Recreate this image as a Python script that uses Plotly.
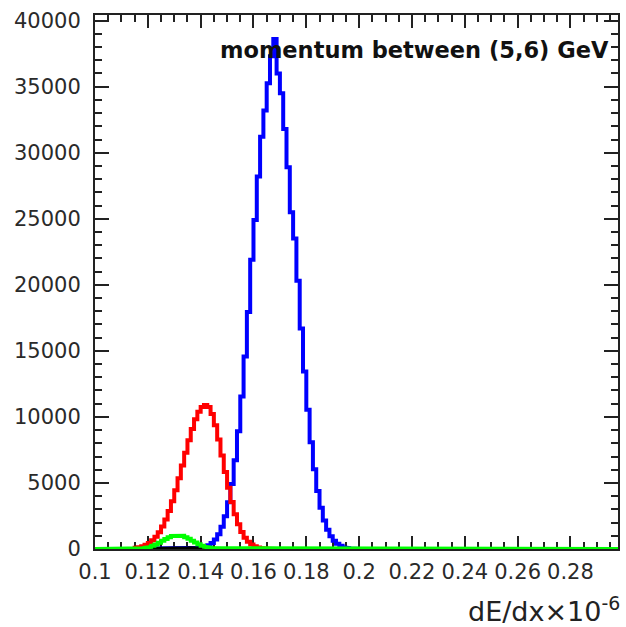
import plotly.graph_objects as go

# ---------------- data ----------------
BIN_W = 0.00125
X_LO, X_HI = 0.1, 0.3

blue_start = 0.12
blue_counts = [30, 30, 35, 35, 40, 40, 45, 45, 50, 50, 55, 55, 60, 65, 70, 80,
               100, 170, 282, 458, 725, 1120, 1680, 2470, 3540, 4930, 6720, 8910,
               11550, 14580, 17950, 21900, 24900, 28200, 31200, 33200, 35250, 37300,
               38600, 36000, 34500, 31800, 28900, 25500, 23500, 20300, 16700, 13440,
               10550, 8080, 6030, 4390, 3120, 2160, 1460, 960, 620, 390, 240, 140,
               80, 45, 25, 12]

red_start = 0.115
red_counts = [88, 138, 211, 315, 462, 661, 926, 1270, 1704, 2238, 2877, 3618, 4452,
              5362, 6320, 7289, 8227, 9088, 9824, 10392, 10758, 10900, 10743, 10217,
              9375, 8298, 7086, 5838, 4641, 3559, 2633, 1879, 1294, 860, 551, 341,
              203, 117, 65, 35, 20, 10, 5]

green_start = 0.11
green_counts = [1, 2, 4, 9, 18, 34, 60, 100, 160, 242, 348, 475, 617, 760, 889, 988,
                1042, 1044, 993, 898, 771, 628, 486, 357, 249, 165, 104, 62, 35, 18,
                9, 4]

black_start = 0.12
black_counts = [10, 15, 20, 25, 30, 35, 40, 45, 50, 50, 55, 55, 50, 50, 45, 40, 35,
                30, 25, 20, 15, 10]

x_tickvals = [0.1, 0.12, 0.14, 0.16, 0.18, 0.2, 0.22, 0.24, 0.26, 0.28]
x_ticktext = ["0.1", "0.12", "0.14", "0.16", "0.18", "0.2", "0.22", "0.24", "0.26", "0.28"]
y_tickvals = [0, 5000, 10000, 15000, 20000, 25000, 30000, 35000, 40000]

title_text = "<b>momentum between (5,6) GeV</b>"
x_title = "dE/dx×10<sup>-6</sup>"


def hist_xy(start, counts, pad_to=None):
    """Outline of a histogram as step vertices."""
    lo = start
    cs = list(counts)
    if pad_to is not None:
        n_before = round((start - pad_to[0]) / BIN_W)
        n_total = round((pad_to[1] - pad_to[0]) / BIN_W)
        cs = [0] * n_before + cs
        cs = cs + [0] * (n_total - len(cs))
        lo = pad_to[0]
    xs, ys = [lo], [0]
    for i, c in enumerate(cs):
        left = lo + i * BIN_W
        right = left + BIN_W
        xs += [left, right]
        ys += [c, c]
    xs.append(lo + len(cs) * BIN_W)
    ys.append(0)
    return xs, ys


fig = go.Figure()
for start, counts, color, pad in [
    (blue_start, blue_counts, "#0000ff", None),
    (red_start, red_counts, "#ff0000", None),
    (black_start, black_counts, "#000000", None),
    (green_start, green_counts, "#00ff00", (X_LO, X_HI)),
]:
    xs, ys = hist_xy(start, counts, pad)
    fig.add_trace(go.Scatter(x=xs, y=ys, mode="lines",
                             line=dict(color=color, width=4),
                             cliponaxis=False, showlegend=False,
                             hoverinfo="skip"))

tick_font = dict(family="DejaVu Sans", size=21, color="#2a2a2a")

fig.update_layout(
    width=626, height=627,
    margin=dict(l=95, r=6, t=15, b=78),
    paper_bgcolor="white", plot_bgcolor="white",
    showlegend=False,
    xaxis=dict(range=[0.1, 0.298], tickmode="array", tickvals=x_tickvals,
               ticktext=x_ticktext, ticks="inside", ticklen=13, tickwidth=2,
               tickcolor="#222222", showline=True, linecolor="#222222",
               linewidth=2, mirror="ticks", showgrid=False, zeroline=False,
               tickfont=tick_font, ticklabelstandoff=3, layer="below traces",
               minor=dict(tickmode="linear", tick0=0.1, dtick=0.005,
                          ticks="inside", ticklen=7, tickwidth=2,
                          tickcolor="#222222", showgrid=False)),
    yaxis=dict(range=[0, 40425], tickmode="array", tickvals=y_tickvals,
               ticktext=[str(v) for v in y_tickvals], ticks="inside",
               ticklen=14, tickwidth=2, tickcolor="#222222", showline=True,
               linecolor="#222222", linewidth=2, mirror="ticks",
               showgrid=False, zeroline=False, tickfont=tick_font,
               ticklabelstandoff=8, layer="below traces",
               minor=dict(tickmode="linear", tick0=0, dtick=1000,
                          ticks="inside", ticklen=7, tickwidth=2,
                          tickcolor="#222222", showgrid=False)),
    annotations=[
        dict(text=title_text, xref="paper", yref="paper", x=1, y=1,
             xanchor="right", yanchor="middle", xshift=-7, yshift=-35,
             showarrow=False,
             font=dict(family="DejaVu Sans", size=22.5, color="#111111")),
        dict(text=x_title, xref="paper", yref="paper", x=1, y=0,
             xanchor="right", yanchor="middle", xshift=4, yshift=-60,
             showarrow=False,
             font=dict(family="DejaVu Sans", size=27, color="#222222")),
    ],
)

fig.write_html("out.html")
